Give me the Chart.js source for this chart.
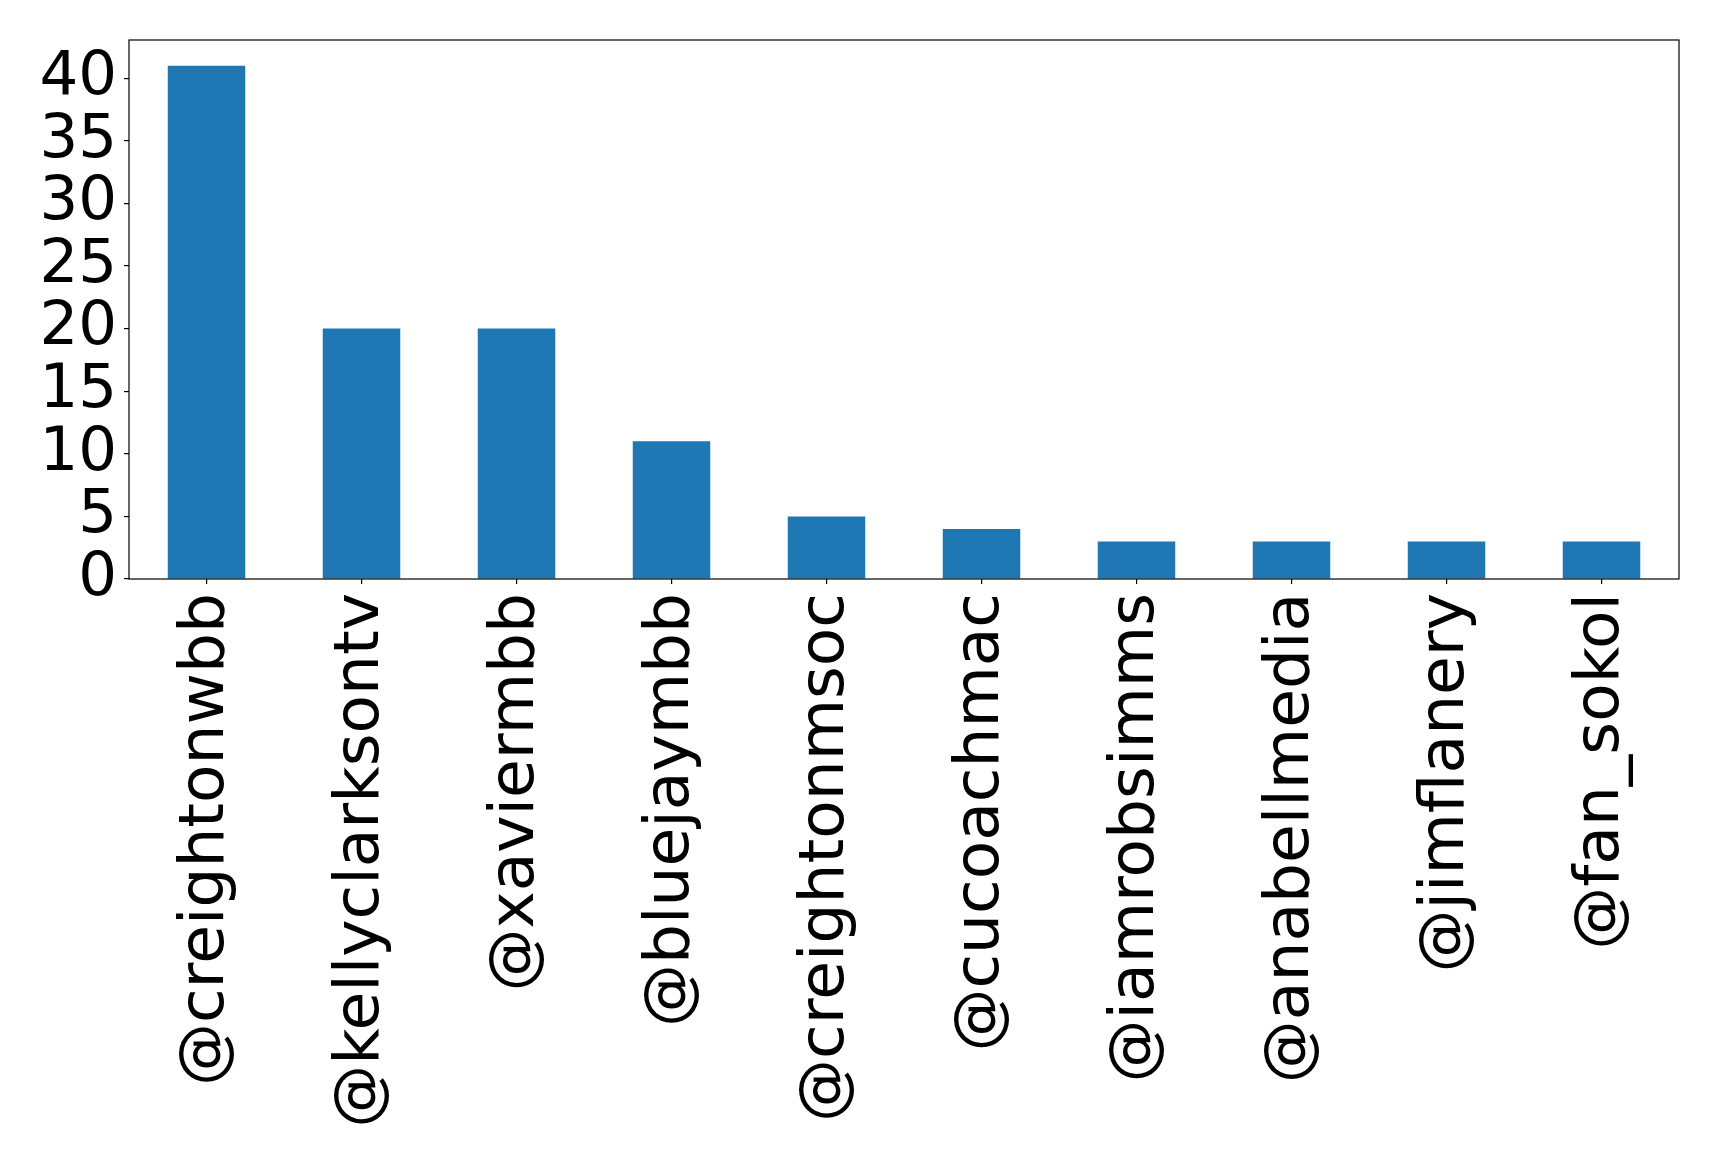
<!DOCTYPE html>
<html>
<head>
<meta charset="utf-8">
<script src="https://cdn.jsdelivr.net/npm/chart.js@4"></script>
<style>
  body { margin: 0; background: #fff; }
  #wrap { width: 1719px; height: 1159px; }
</style>
</head>
<body>
<div id="wrap"><canvas id="myChart"></canvas></div>
<script>
const handles = [
  '@creightonwbb', '@kellyclarksontv', '@xaviermbb', '@bluejaymbb', '@creightonmsoc',
  '@cucoachmac', '@iamrobsimms', '@anabellmedia', '@jimflanery', '@fan_sokol'
];
const counts = [41, 20, 20, 11, 5, 4, 3, 3, 3, 3];
const yTicks = [0, 5, 10, 15, 20, 25, 30, 35, 40];

const frame = {
  id: 'frame',
  afterDraw(chart) {
    const a = chart.chartArea, c = chart.ctx;
    c.save();
    c.strokeStyle = '#000';
    c.lineWidth = 1.2;
    c.strokeRect(a.left, a.top, a.right - a.left, a.bottom - a.top);
    c.restore();
  }
};

const ctx = document.getElementById('myChart').getContext('2d');
const myChart = new Chart(ctx, {
  type: 'bar',
  data: {
    labels: handles,
    datasets: [{
      data: counts,
      backgroundColor: '#1f77b4',
      barPercentage: 0.5,
      categoryPercentage: 1.0
    }]
  },
  options: {
    responsive: true,
    maintainAspectRatio: false,
    animation: false,
    layout: { padding: { top: 40, right: 40, left: 0, bottom: 0 } },
    plugins: { legend: { display: false }, tooltip: { enabled: false } },
    scales: {
      x: {
        grid: { drawOnChartArea: false, offset: false, tickLength: 5, color: '#000', lineWidth: 1.2 },
        border: { display: false },
        ticks: {
          color: '#000', font: { family: 'DejaVu Sans', size: 63 },
          maxRotation: 90, minRotation: 90, autoSkip: false, padding: 9
        },
        afterFit(scale) {
          scale.height = 580;
          scale.paddingLeft = 0;
          scale.paddingRight = 0;
        }
      },
      y: {
        min: 0,
        max: 43.05,
        grid: { drawOnChartArea: false, tickLength: 5, color: '#000', lineWidth: 1.2 },
        border: { display: false },
        ticks: {
          color: '#000', font: { family: 'DejaVu Sans', size: 61 },
          stepSize: 5, autoSkip: false, padding: 7
        },
        afterBuildTicks(scale) { scale.ticks = yTicks.map(v => ({ value: v })); },
        afterFit(scale) {
          scale.width = 129;
          scale.paddingTop = 0;
          scale.paddingBottom = 0;
        }
      }
    }
  },
  plugins: [frame]
});
</script>
</body>
</html>
